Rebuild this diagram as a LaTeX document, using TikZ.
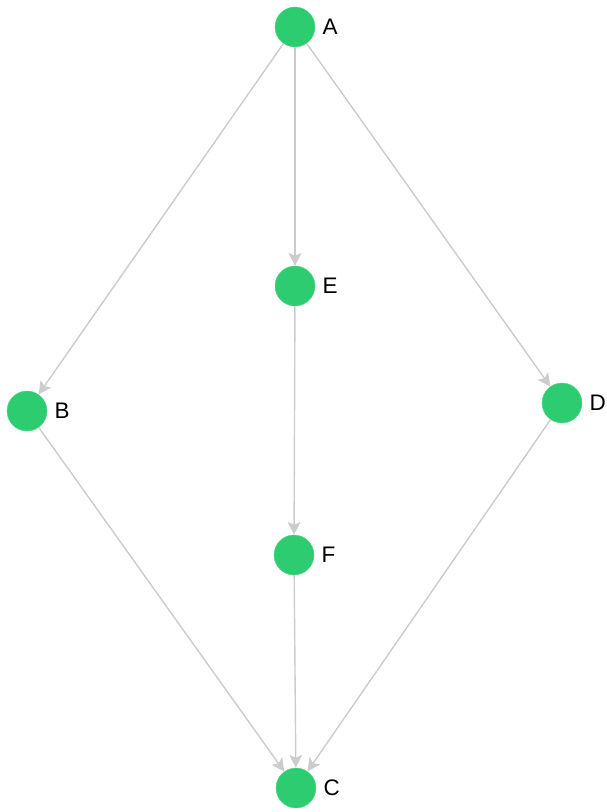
\documentclass[tikz,border=0pt]{standalone}
\usepackage{fontspec}
\setmainfont{Liberation Sans}
\usetikzlibrary{arrows.meta}

\definecolor{knotgruen}{RGB}{46,204,113}
\definecolor{kantengrau}{RGB}{204,204,204}

\begin{document}
\begin{tikzpicture}[
    knoten/.style={circle, fill=knotgruen, draw=knotgruen!80!white, line width=0.3pt,
        minimum size=1cm, inner sep=0pt},
    beschr/.style={inner sep=0pt, label distance=0.18cm, font=\fontsize{16}{18}\selectfont},
    kante/.style={draw=kantengrau, line width=1pt,
        -{Stealth[length=0.32cm, width=0.32cm, inset=0.07cm, fill=kantengrau]}}
]

\useasboundingbox (0,0) rectangle (15.15,20.3);

\node[knoten, label={[beschr]right:A}] (A) at (7.375,19.625) {};
\node[knoten, label={[beschr]right:E}] (E) at (7.375,13.15) {};
\node[knoten, label={[beschr]right:B}] (B) at (0.675,10.025) {};
\node[knoten, label={[beschr]right:D}] (D) at (14.05,10.225) {};
\node[knoten, label={[beschr]right:F}] (F) at (7.35,6.425) {};
\node[knoten, label={[beschr]right:C}] (C) at (7.4,0.6) {};

%Kanten
\draw[kante] (A) -- (B);
\draw[kante] (A) -- (E);
\draw[kante] (A) -- (D);
\draw[kante] (E) -- (F);
\draw[kante] (B) -- (C);
\draw[kante] (F) -- (C);
\draw[kante] (D) -- (C);

\end{tikzpicture}
\end{document}
